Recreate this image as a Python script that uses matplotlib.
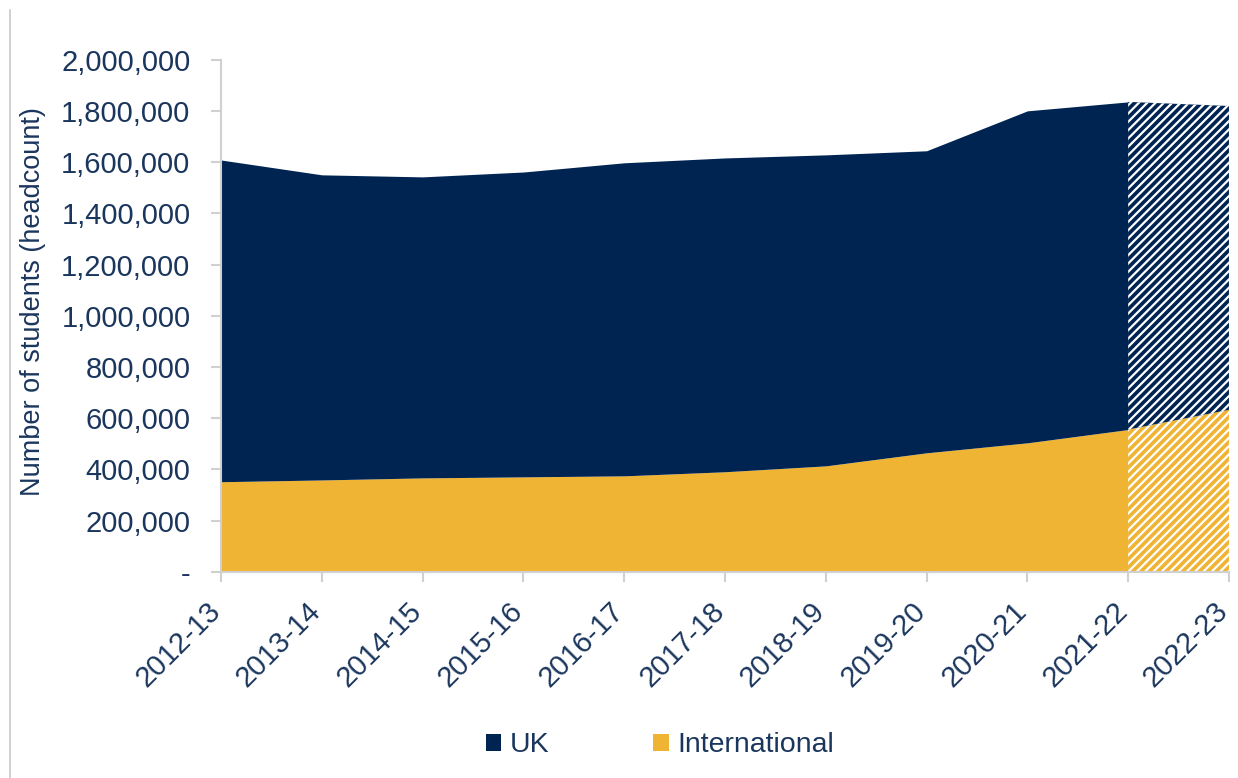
import matplotlib
matplotlib.use("Agg")
import matplotlib.pyplot as plt
from matplotlib.lines import Line2D
from matplotlib.patches import Patch
from matplotlib.ticker import FuncFormatter
from matplotlib.transforms import ScaledTranslation

years = ["2012-13", "2013-14", "2014-15", "2015-16", "2016-17", "2017-18",
         "2018-19", "2019-20", "2020-21", "2021-22", "2022-23"]
international = [352000, 359000, 367000, 371000, 375000, 391000,
                 414000, 465000, 504000, 556000, 633000]
total = [1609000, 1551000, 1543000, 1562000, 1598000, 1617000,
         1629000, 1645000, 1801000, 1836000, 1820000]
uk = [t - i for t, i in zip(total, international)]
n_actual = 10  # last year is a forecast (hatched)

navy = "#002452"
gold = "#F0B434"
text_col = "#1B365D"
grey = "#D0D0D0"

plt.rcParams["font.family"] = ["Liberation Sans", "DejaVu Sans"]
plt.rcParams["hatch.linewidth"] = 1.6

fig = plt.figure(figsize=(12.38, 7.78), dpi=100)
ax = fig.add_axes([0.1785, 0.265, 0.8142, 0.658])

x = list(range(len(years)))
a = n_actual - 1
top = [i + u for i, u in zip(international, uk)]

ax.fill_between(x[:a + 1], 0, international[:a + 1], color=gold, lw=0)
ax.fill_between(x[:a + 1], international[:a + 1], top[:a + 1], color=navy, lw=0)
ax.fill_between(x[a:], 0, international[a:], facecolor=gold,
                edgecolor="white", hatch="////", lw=0)
ax.fill_between(x[a:], international[a:], top[a:], facecolor=navy,
                edgecolor="white", hatch="////", lw=0)

ax.set_xlim(0, len(years) - 1)
ax.set_ylim(0, 2000000)
ax.set_yticks(range(0, 2000001, 200000))
ax.yaxis.set_major_formatter(FuncFormatter(lambda v, p: "-" if v == 0 else f"{int(v):,}"))
ax.set_xticks(x)
ax.set_xticklabels(years, rotation=45, ha="right", rotation_mode="anchor")

for s in ["top", "right"]:
    ax.spines[s].set_visible(False)
for s in ["left", "bottom"]:
    ax.spines[s].set_color(grey)
    ax.spines[s].set_linewidth(1.5)
ax.tick_params(axis="both", colors=grey, length=7, width=1.5, labelsize=21,
               labelcolor=text_col)
ax.tick_params(axis="y", pad=15)
ax.tick_params(axis="x", pad=6)

shift = ScaledTranslation(-0.15, -0.07, fig.dpi_scale_trans)
for lbl in ax.get_xticklabels():
    lbl.set_transform(lbl.get_transform() + shift)

ax.set_ylabel("Number of students (headcount)", fontsize=19.5, color=text_col)
ax.yaxis.set_label_coords(-0.174, 0.527)

handles = [Patch(facecolor=navy, label="UK"),
           Patch(facecolor=gold, label="International")]
fig.legend(handles=handles, loc="center", bbox_to_anchor=(0.533, 0.042), ncol=2,
           frameon=False, fontsize=20.5, labelcolor=text_col, handlelength=0.55,
           handleheight=0.55, handletextpad=0.3, columnspacing=3.65)

fig.add_artist(Line2D([10 / 1238, 10 / 1238], [0, 1 - 10 / 778],
                      transform=fig.transFigure, color="#C8C8C8", lw=1.2))

fig.savefig("out.png", dpi=100)
